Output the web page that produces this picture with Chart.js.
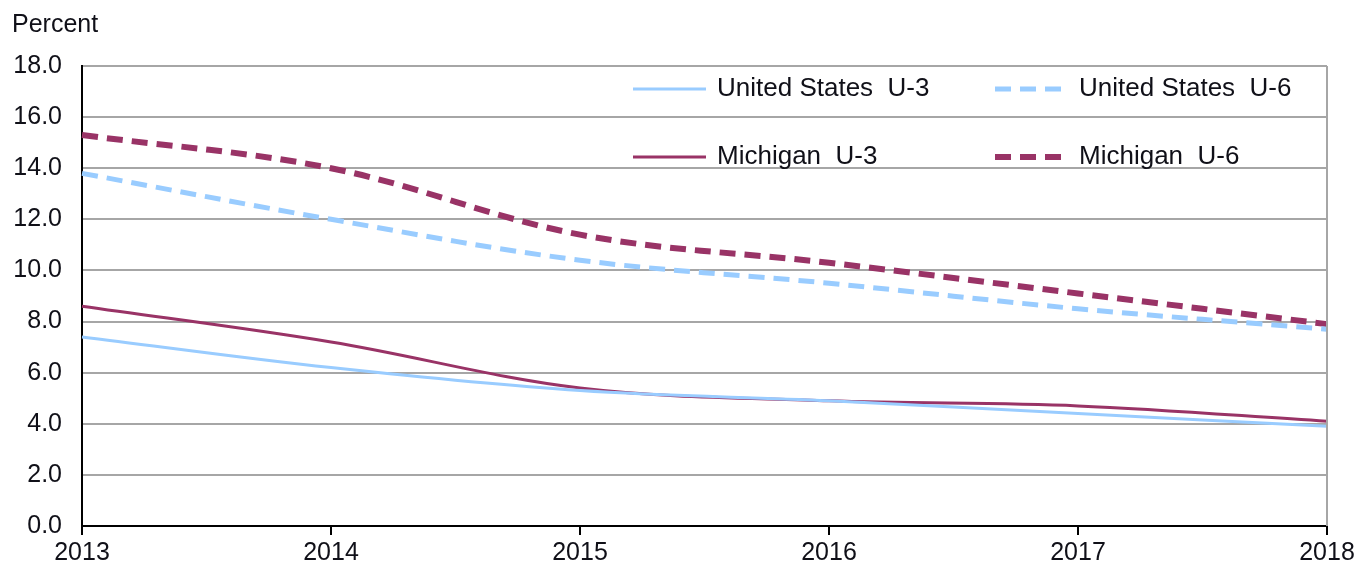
<!DOCTYPE html>
<html>
<head>
<meta charset="utf-8">
<script src="https://cdn.jsdelivr.net/npm/chart.js@4"></script>
<style>
  body { margin: 0; background: #fff; }
  #wrap { width: 1358px; height: 568px; position: relative; }
</style>
</head>
<body>
<div id="wrap"><canvas id="u_chart"></canvas></div>
<script>
// Unemployment rates, annual averages (percent)
var years = ["2013", "2014", "2015", "2016", "2017", "2018"];
var usU3 = [7.4, 6.2, 5.3, 4.9, 4.4, 3.9];
var usU6 = [13.8, 12.0, 10.4, 9.5, 8.5, 7.7];
var miU3 = [8.6, 7.2, 5.4, 4.9, 4.7, 4.1];
var miU6 = [15.3, 14.0, 11.4, 10.3, 9.1, 7.9];
var yTicks = [0, 2, 4, 6, 8, 10, 12, 14, 16, 18];

var blue = "#99ccff";
var maroon = "#993366";
var textColor = "#101018";
var font = "Liberation Sans, Arial, sans-serif";

// legend drawn inside the plot, two columns, plus the "Percent" label and right border
var extras = {
    id: "extras",
    afterDraw: function (chart) {
        var ctx = chart.ctx;
        var area = chart.chartArea;
        ctx.save();
        // right border of the plot
        ctx.strokeStyle = "#a6a6a6";
        ctx.lineWidth = 2;
        ctx.beginPath();
        ctx.moveTo(area.right, area.top);
        ctx.lineTo(area.right, area.bottom);
        ctx.stroke();

        ctx.fillStyle = textColor;
        ctx.font = "25px " + font;
        ctx.textBaseline = "middle";
        ctx.textAlign = "left";
        ctx.fillText("Percent", 12, 25);

        var cols = [area.right - 694, area.right - 332];
        var rows = [area.top + 23, area.top + 91];
        chart.data.datasets.forEach(function (ds, i) {
            var x = cols[i % 2];
            var y = rows[Math.floor(i / 2)];
            ctx.strokeStyle = ds.borderColor;
            ctx.lineWidth = ds.borderWidth;
            ctx.setLineDash(ds.borderDash || []);
            ctx.beginPath();
            ctx.moveTo(x, y);
            ctx.lineTo(x + 73, y);
            ctx.stroke();
            ctx.setLineDash([]);
            ctx.font = "26px " + font;
            ctx.fillStyle = textColor;
            ctx.fillText(ds.label, x + 84, y);
        });
        ctx.restore();
    }
};

var uchart = new Chart("u_chart", {
    type: "line",
    data: {
        labels: years,
        datasets: [
            { label: "United States  U-3", data: usU3, borderColor: blue, borderWidth: 3 },
            { label: "United States  U-6", data: usU6, borderColor: blue, borderWidth: 5, borderDash: [16, 9] },
            { label: "Michigan  U-3", data: miU3, borderColor: maroon, borderWidth: 3 },
            { label: "Michigan  U-6", data: miU6, borderColor: maroon, borderWidth: 6, borderDash: [16, 9] }
        ]
    },
    options: {
        responsive: true,
        maintainAspectRatio: false,
        animation: false,
        layout: { padding: { top: 66, right: 31, left: 0, bottom: 0 } },
        elements: {
            line: { tension: 0.35, fill: false },
            point: { radius: 0 }
        },
        plugins: {
            legend: { display: false },
            tooltip: { enabled: false }
        },
        scales: {
            x: {
                offset: false,
                grid: { drawOnChartArea: false, drawTicks: true, tickLength: 9, color: "#000", lineWidth: 2 },
                border: { display: true, color: "#000", width: 2 },
                ticks: { color: textColor, font: { size: 25, family: font }, padding: 3, maxRotation: 0 },
                afterFit: function (scale) { scale.height = 42; }
            },
            y: {
                min: 0,
                max: 18,
                afterBuildTicks: function (scale) {
                    scale.ticks = yTicks.map(function (v) { return { value: v }; });
                },
                grid: { color: "#a6a6a6", lineWidth: 2, drawTicks: false },
                border: { display: true, color: "#000", width: 2 },
                ticks: {
                    color: textColor,
                    font: { size: 25, family: font },
                    padding: 20,
                    callback: function (v) { return v.toFixed(1); }
                },
                afterFit: function (scale) { scale.width = 82; }
            }
        }
    },
    plugins: [extras]
});
</script>
</body>
</html>
